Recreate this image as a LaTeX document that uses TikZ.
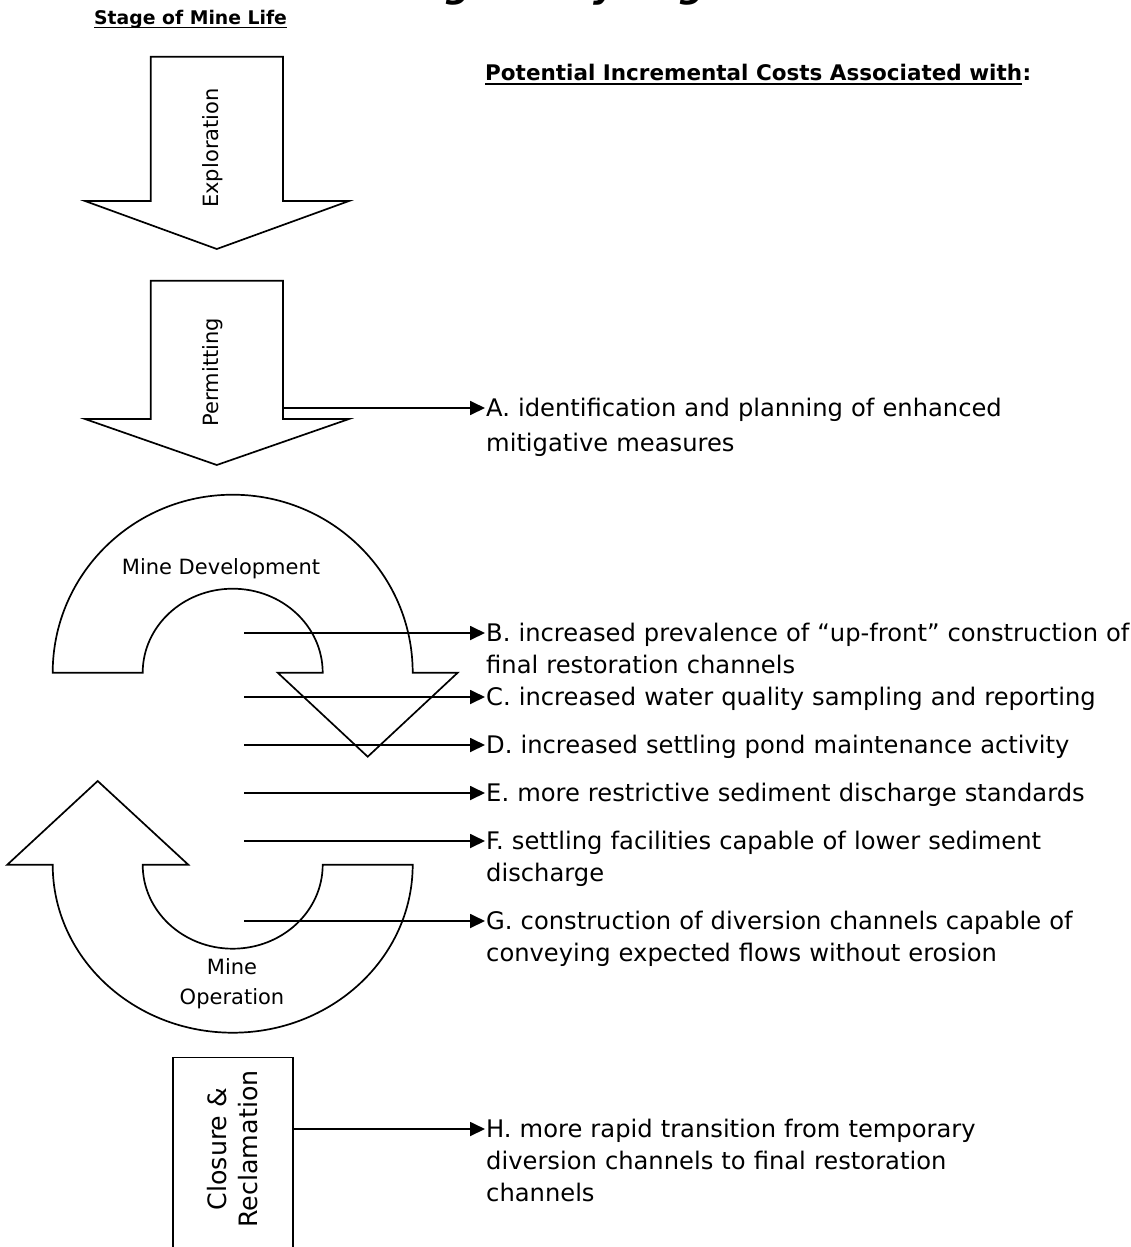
\documentclass[tikz,border=0pt]{standalone}
\usepackage{fontspec}
\setmainfont{DejaVu Sans}
\usetikzlibrary{arrows.meta}

\tikzset{
  stage/.style={draw, line width=1.7pt},
  conn/.style={line width=1.8pt, -{Triangle[length=15pt,width=14pt]}, shorten >=1pt},
  item/.style={anchor=base west, inner sep=0pt, text width=700pt, align=left,
    font=\fontsize{24.2}{32}\selectfont},
  lbl/.style={inner sep=0pt, font=\fontsize{21}{30}\selectfont},
  head/.style={anchor=base west, inner sep=0pt, font=\fontsize{21.5}{26}\selectfont\bfseries},
  ul/.style={line width=1.8pt}
}

\begin{document}
\begin{tikzpicture}[x=1pt,y=1pt]
\useasboundingbox (0,0) rectangle (1131,-1247);

% title, cut by the top edge
\node[anchor=base west, inner sep=0pt, font=\fontsize{36}{40}\selectfont\bfseries\itshape] (title) at (395,2) {Regulatory Regime};

% headings
\node[head, font=\fontsize{18.8}{24}\selectfont\bfseries] (stagehd) at (94,-25) {Stage of Mine Life\ };
\draw[ul] ([yshift=-2.5pt]stagehd.base west) -- ([yshift=-2.5pt]stagehd.base east);
\node[head] (costhd) at (485,-81) {Potential Incremental Costs Associated with};
\node[head] (colon) at (costhd.base east) {:};
\draw[ul] ([yshift=-3pt]costhd.base west) -- ([yshift=-3pt]costhd.base east);

% stages of mine life
\draw[stage] (150.7,-56.7) -- (283,-56.7) -- (283,-201) -- (349,-201) -- (216.8,-249)
  -- (85,-201) -- (150.7,-201) -- cycle;
\node[lbl, rotate=90] (explo) at (213,-148) {Exploration};

\draw[stage] (150.7,-280.7) -- (283,-280.7) -- (283,-419) -- (349,-419) -- (216.8,-465)
  -- (85,-419) -- (150.7,-419) -- cycle;
\node[lbl, rotate=90] (permit) at (213,-372) {Permitting};

\draw[stage] (52.7,-672.7) arc[start angle=180, end angle=0, x radius=180, y radius=178]
  -- (457.7,-672.7) -- (367.7,-756.7) -- (277.7,-672.7) -- (322.7,-672.7)
  arc[start angle=0, end angle=180, x radius=90, y radius=84] -- cycle;
\node[lbl] (develop) at (221,-569) {Mine Development};

\draw[stage] (97.7,-781) -- (188.3,-864.7) -- (142.7,-864.7)
  arc[start angle=180, end angle=360, x radius=90, y radius=84] -- (412.7,-864.7)
  arc[start angle=0, end angle=-180, x radius=180, y radius=168] -- (7.3,-864.7) -- cycle;
\node[lbl, align=center] (operate) at (232,-984) {Mine\\Operation};

\node[stage, inner sep=0pt, minimum width=120.3pt, minimum height=220pt, anchor=north] (closure) at (232.8,-1056.7) {};
\node[inner sep=0pt, rotate=90, align=center, font=\fontsize{25.3}{31.3}\selectfont] (closlab) at (232.5,-1149) {Closure \&\\Reclamation};

% connector start points
\coordinate (sA) at (283,-408);
\coordinate (sB) at (244,-633);
\coordinate (sC) at (244,-697);
\coordinate (sD) at (244,-745);
\coordinate (sE) at (244,-793);
\coordinate (sF) at (244,-841);
\coordinate (sG) at (244,-921);
\coordinate (sH) at (293,-1129);

% costs
\node[item, font=\fontsize{24.2}{35}\selectfont] (A) at (486,-416.8) {A. identification and planning of enhanced\\mitigative measures};
\node[item] (B) at (486,-641.8) {B. increased prevalence of “up-front” construction of\\final restoration channels};
\node[item] (C) at (486,-705.8) {C. increased water quality sampling and reporting};
\node[item] (D) at (486,-753.8) {D. increased settling pond maintenance activity};
\node[item] (E) at (486,-801.8) {E. more restrictive sediment discharge standards};
\node[item] (F) at (486,-849.8) {F. settling facilities capable of lower sediment\\discharge};
\node[item] (G) at (486,-929.8) {G. construction of diversion channels capable of\\conveying expected flows without erosion};
\node[item] (H) at (486,-1137.8) {H. more rapid transition from temporary\\diversion channels to final restoration\\channels};

\foreach \n in {A,B,C,D,E,F,G,H}
  \draw[conn] (s\n) -- (s\n -| \n.west);

\end{tikzpicture}
\end{document}
